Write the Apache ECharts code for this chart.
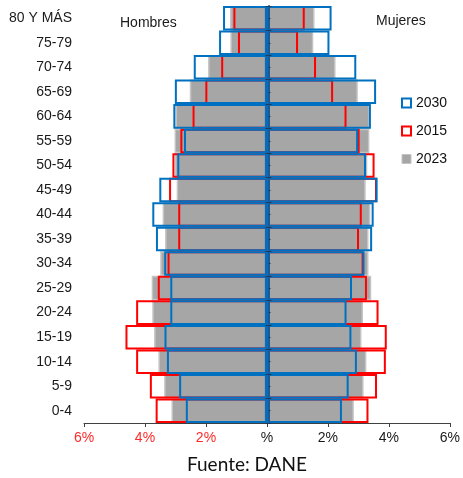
<!DOCTYPE html>
<html>
<head>
<meta charset="utf-8">
<script src="https://cdn.jsdelivr.net/npm/echarts@6/dist/echarts.min.js"></script>
<style>
  html, body { margin: 0; padding: 0; background: #ffffff; }
  #chart { width: 463px; height: 478px; }
</style>
</head>
<body>
<div id="chart"></div>
<script>
// Age groups, bottom to top
const categories = ['0-4','5-9','10-14','15-19','20-24','25-29','30-34','35-39','40-44','45-49','50-54','55-59','60-64','65-69','70-74','75-79','80 Y MÁS'];

// Percent of population (Hombres drawn to the left)
const hombres2023 = [3.13, 3.37, 3.56, 3.70, 3.76, 3.78, 3.50, 3.34, 3.42, 2.96, 3.02, 3.03, 3.00, 2.53, 1.93, 1.20, 1.21];
const mujeres2023 = [2.85, 3.17, 3.26, 3.10, 3.15, 3.42, 3.33, 3.33, 3.39, 3.24, 3.29, 3.36, 3.37, 2.98, 2.25, 1.52, 1.56];
const hombres2015 = [3.65, 3.84, 4.29, 4.64, 4.29, 3.58, 3.26, 2.91, 2.91, 3.21, 3.10, 2.84, 2.44, 2.02, 1.50, 0.95, 1.10];
const mujeres2015 = [3.33, 3.61, 3.90, 3.93, 3.66, 3.28, 3.17, 3.02, 3.11, 3.61, 3.53, 3.04, 2.61, 2.17, 1.61, 1.02, 1.24];
const hombres2030 = [2.66, 2.88, 3.28, 3.36, 3.17, 3.17, 3.37, 3.64, 3.76, 3.53, 2.94, 2.72, 3.07, 3.02, 2.40, 1.57, 1.44];
const mujeres2030 = [2.46, 2.68, 2.95, 2.77, 2.61, 2.79, 3.20, 3.45, 3.50, 3.63, 3.25, 2.99, 3.41, 3.58, 2.93, 2.05, 2.12];

const xTicks = [-6, -4, -2, 0, 2, 4, 6];

const neg = arr => arr.map(v => -v);

const chart = echarts.init(document.getElementById('chart'), null, { renderer: 'canvas' });

const GRID_LEFT = 84, GRID_RIGHT = 10, W = 463;
const zeroOffset = -((W - GRID_LEFT - GRID_RIGHT) / 2); // place center axis at value 0

const grayStyle = { color: '#a6a6a6', borderColor: '#c4c4c4', borderWidth: 1.5 };
const redStyle = { color: 'rgba(0,0,0,0)', borderColor: '#ff0000', borderWidth: 2 };
const blueStyle = { color: 'rgba(0,0,0,0)', borderColor: '#0070c0', borderWidth: 2 };

function bar(name, data, style, z) {
  return {
    name: name,
    type: 'bar',
    data: data,
    xAxisIndex: 0,
    yAxisIndex: 0,
    barWidth: '100%',
    barGap: '-100%',
    barCategoryGap: 0,
    itemStyle: style,
    z: z,
    silent: true
  };
}

function centerAxis(tickOpts, showLine) {
  return {
    type: 'category',
    data: categories,
    position: 'left',
    offset: zeroOffset,
    z: 10,
    axisLine: { show: showLine, onZero: false, lineStyle: { color: '#1d5a94', width: 2 } },
    axisTick: Object.assign({ show: true, length: 3, lineStyle: { color: '#1d3a5a', width: 1 } }, tickOpts),
    axisLabel: { show: false },
    splitLine: { show: false }
  };
}

const option = {
  animation: false,
  backgroundColor: '#ffffff',
  textStyle: { fontFamily: 'Liberation Sans, Arial, sans-serif' },
  grid: { left: GRID_LEFT, right: GRID_RIGHT, top: 6, bottom: 55, containLabel: false },
  xAxis: {
    type: 'value',
    min: xTicks[0],
    max: xTicks[xTicks.length - 1],
    interval: 2,
    splitLine: { show: false },
    axisLine: { show: true, lineStyle: { color: '#404040', width: 1 } },
    axisTick: { show: true, length: 4, lineStyle: { color: '#404040' } },
    axisLabel: {
      fontSize: 14,
      margin: 8,
      fontFamily: 'Liberation Sans, Arial, sans-serif',
      formatter: v => v === 0 ? '%' : Math.abs(v) + '%',
      color: v => (v < 0 ? '#ff2a2a' : '#1a1a1a')
    }
  },
  yAxis: [
    {
      type: 'category',
      data: categories,
      position: 'left',
      axisLine: { show: false, onZero: false },
      axisTick: { show: false },
      axisLabel: { fontSize: 14, color: '#1a1a1a', margin: 12, fontFamily: 'Liberation Sans, Arial, sans-serif' },
      splitLine: { show: false }
    },
    centerAxis({ inside: false }, true),
    centerAxis({ inside: true }, false),
    centerAxis({ inside: true, alignWithLabel: true, length: 2 }, false)
  ],
  legend: {
    orient: 'vertical',
    left: 396,
    top: 91,
    itemWidth: 9,
    itemHeight: 9,
    itemGap: 14,
    textStyle: { fontSize: 14, color: '#111', fontFamily: 'Liberation Sans, Arial, sans-serif' },
    data: [
      { name: '2030', icon: 'rect', itemStyle: { color: '#ffffff', borderColor: '#0070c0', borderWidth: 2 } },
      { name: '2015', icon: 'rect', itemStyle: { color: '#ffffff', borderColor: '#ff0000', borderWidth: 2 } },
      { name: '2023', icon: 'rect', itemStyle: { color: '#a6a6a6', borderColor: '#c4c4c4', borderWidth: 1 } }
    ],
    selectedMode: false
  },
  graphic: [
    { type: 'text', left: 120, top: 16, style: { text: 'Hombres', fontSize: 14, fill: '#1a1a1a', fontFamily: 'Liberation Sans, Arial, sans-serif' } },
    { type: 'text', left: 376, top: 14, style: { text: 'Mujeres', fontSize: 14, fill: '#1a1a1a', fontFamily: 'Liberation Sans, Arial, sans-serif' } }
  ],
  title: {
    text: 'Fuente: DANE',
    left: 187,
    top: 455,
    padding: 0,
    textStyle: { fontSize: 19, fontWeight: 'normal', color: '#111', fontFamily: 'Lato, Liberation Sans, sans-serif' }
  },
  series: [
    bar('2023', neg(hombres2023), grayStyle, 2),
    bar('2023', mujeres2023, grayStyle, 2),
    bar('2015', neg(hombres2015), redStyle, 3),
    bar('2015', mujeres2015, redStyle, 3),
    bar('2030', neg(hombres2030), blueStyle, 4),
    bar('2030', mujeres2030, blueStyle, 4)
  ]
};

chart.setOption(option);
</script>
</body>
</html>
